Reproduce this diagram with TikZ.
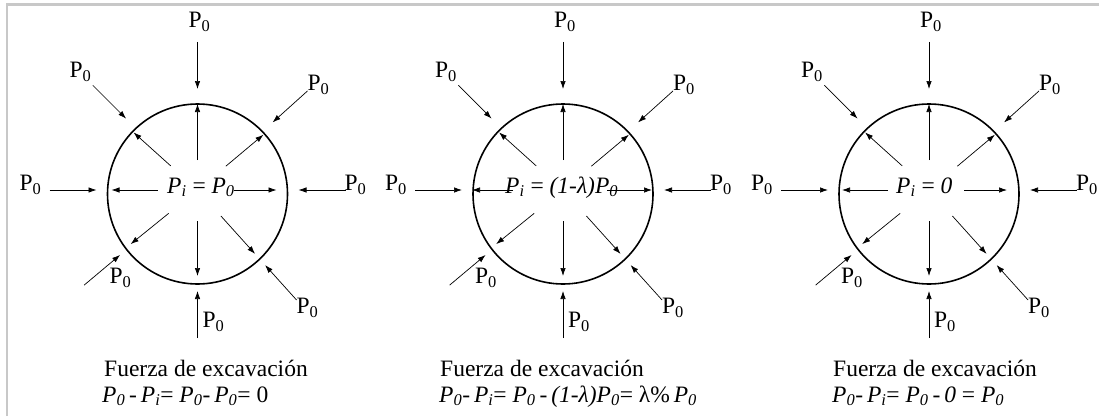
\documentclass[tikz,border=0pt]{standalone}
\usepackage{fontspec}
\setmainfont{Liberation Serif}
\usepackage{tikz}
\usetikzlibrary{arrows.meta, positioning, calc}
\definecolor{framegray}{RGB}{200, 200, 200}
\newcommand{\Pz}{P\textsubscript{0}}
\newcommand{\Pit}[1]{\textit{P}\textsubscript{\textit{#1}}}

\begin{document}
\begin{tikzpicture}[x=1pt, y=1pt,
						tunnel/.style={draw, circle, line width=1.6pt, minimum size=180pt, inner sep=0pt},
						arrow/.style={-{Latex[length=8pt, width=5.5pt]}, line width=0.7pt},
						load/.style={inner sep=0pt, font=\fontsize{23.5}{26}\selectfont},
						caption/.style={anchor=base west, inner sep=0pt, font=\fontsize{23.5}{26}\selectfont}
					]

					\useasboundingbox (0,0) rectangle (1099,416);

					% Frame
					\draw[framegray, line width=2.5pt] (7,0) -- (7,411.3) -- (1099,411.3);

					% Tunnels
					\node[tunnel] (c1) at (197.5,222) {};
					\node[tunnel] (c2) at (563,222) {};
					\node[tunnel] (c3) at (929,222) {};

					% Pressures
					\foreach \k/\cx/\ls/\le/\rs/\re in {1/197.5/40/86/36/79, 2/563/50/91/44/89, 3/929/41/87/35/78} {
						\coordinate (h\k) at (\cx,226);
						% outer P0
						\foreach \a/\lx/\ly in {90/2/168, 42/121/105, 0/158/5, 312/110/-118, 270/16/-132, 220/-77/-88, 180/-167/5, 135/-117/118} {
							\coordinate (s\k-\a) at ($(h\k)+(\a:148)$);
							\coordinate (e\k-\a) at ($(h\k)+(\a:101)$);
							\draw[arrow] (s\k-\a) -- (e\k-\a);
							\node[load] (p\k-\a) at ($(h\k)+(\lx,\ly)$) {\Pz};
						}
						% inner Pi
						\foreach \a/\r in {40/37, 90/30, 138/36, 219/37, 270/31, 312/35} {
							\coordinate (i\k-\a) at ($(h\k)+(\a:\r)$);
							\coordinate (o\k-\a) at ($(h\k)+(\a:86)$);
							\draw[arrow] (i\k-\a) -- (o\k-\a);
						}
						\coordinate (i\k-180) at ($(h\k)+(-\ls,0)$);
						\coordinate (o\k-180) at ($(h\k)+(-\le,0)$);
						\coordinate (i\k-0) at ($(h\k)+(\rs,0)$);
						\coordinate (o\k-0) at ($(h\k)+(\re,0)$);
						\draw[arrow] (i\k-180) -- (o\k-180);
						\draw[arrow] (i\k-0) -- (o\k-0);
					}

					% Inner values
					\node[caption] (t1) at (167,223) {\Pit{i} = \Pit{0}};
					\node[caption] (t2) at (505,223) {\Pit{i} = \textit{(1-λ)}\Pit{0}};
					\node[caption] (t3) at (896,223) {\Pit{i} = \textit{0}};

					% Captions
					\node[caption] (f1) at (104,40) {Fuerza de excavación};
					\node[caption] (g1) at (102,14) {\Pit{0}\,-\,\Pit{i}= \Pit{0}-\,\Pit{0}= 0};
					\node[caption] (f2) at (440,40) {Fuerza de excavación};
					\node[caption] (g2) at (439,14) {\Pit{0}-\,\Pit{i}= \Pit{0}\,-\,\textit{(1-λ)}\Pit{0}= λ\%\,\Pit{0}};
					\node[caption] (f3) at (833,40) {Fuerza de excavación};
					\node[caption] (g3) at (832,14) {\Pit{0}-\,\Pit{i}= \Pit{0}\,-\,\textit{0} = \Pit{0}};
				\end{tikzpicture}
\end{document}
